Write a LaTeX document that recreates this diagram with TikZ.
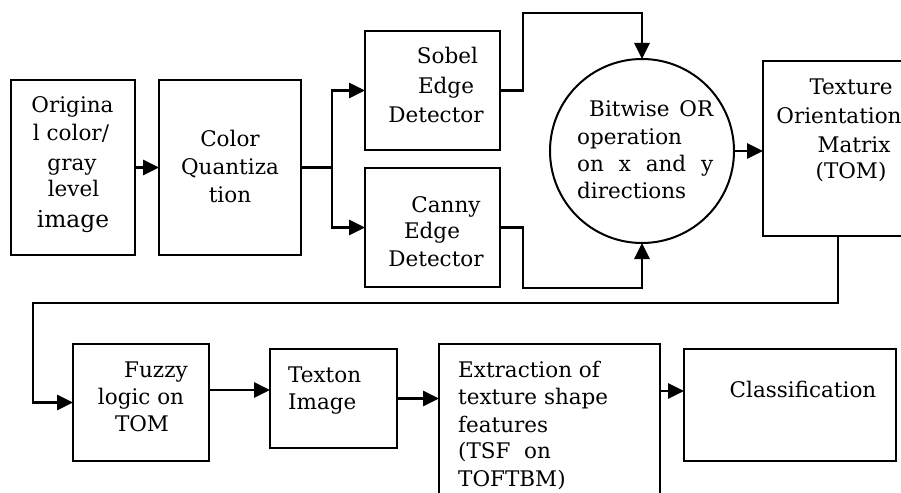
\documentclass[tikz,border=0pt]{standalone}
\usepackage{fontspec}
\setmainfont{DejaVu Serif}
\usetikzlibrary{arrows.meta}
\begin{document}
\begin{tikzpicture}[x=1pt,y=-1pt,
  box/.style={draw, line width=2pt, inner sep=0pt, outer sep=0pt},
  wire/.style={line width=2.8pt},
  conn/.style={wire, -{Triangle[length=16pt,width=15pt]}},
  tx/.style={inner sep=0pt, anchor=base, font=\fontsize{21.5}{28}\selectfont},
  txl/.style={tx, anchor=base west}]
\useasboundingbox (0,0) rectangle (901,492);
\clip (0,0) rectangle (901,492);
% boxes
\node[box, minimum width=124pt, minimum height=175pt] (orig) at (73,167.5) {};
\node[box, minimum width=142pt, minimum height=175pt] (quant) at (230,167.5) {};
\node[box, minimum width=135pt, minimum height=119pt] (sobel) at (432.5,90.5) {};
\node[box, minimum width=135pt, minimum height=119pt] (canny) at (432.5,227.5) {};
\node[box, circle, minimum size=184pt] (orc) at (642,151) {};
\node[box, minimum width=150pt, minimum height=175pt] (tom) at (838,148.5) {};
\node[box, minimum width=136pt, minimum height=117pt] (fuzzy) at (141,402.5) {};
\node[box, minimum width=127pt, minimum height=99pt] (texton) at (333.5,398.5) {};
\node[box, minimum width=221pt, minimum height=176pt] (extr) at (549.5,432) {};
\node[box, minimum width=212pt, minimum height=112pt] (classif) at (790,405) {};
% texts
\node[tx] (o1) at (72.5,113) {Origina};
\node[tx] (o2) at (71,140) {l color/};
\node[tx] (o3) at (72,170) {gray};
\node[tx] (o4) at (73.5,196) {level};
\node[tx, font=\fontsize{23.3}{28}\selectfont] (o5) at (73,227) {image};
\node[tx] (q1) at (230,146) {Color};
\node[tx] (q2) at (230,174) {Quantiza};
\node[tx] (q3) at (230,202) {tion};
\node[tx] (s1) at (447.5,64) {Sobel};
\node[tx] (s2) at (446,94) {Edge};
\node[tx] (s3) at (436,122) {Detector};
\node[tx] (c1) at (446,212) {Canny};
\node[tx] (c2) at (432,238) {Edge};
\node[tx] (c3) at (436,266) {Detector};
\node[txl] (b1) at (589,117) {\makebox[124pt][s]{Bitwise OR}};
\node[txl] (b2) at (577,144) {operation};
\node[txl] (b3) at (577,171) {\makebox[136pt][s]{on x and y}};
\node[txl] (b4) at (577,198) {directions};
\node[tx] (m1) at (851,95) {Texture};
\node[tx] (m2) at (839,123) {Orientation};
\node[tx] (m3) at (854,152) {Matrix};
\node[tx] (m4) at (851,178) {(TOM)};
\node[tx] (f1) at (156,377) {Fuzzy};
\node[tx] (f2) at (141,404) {logic on};
\node[tx] (f3) at (142,431) {TOM};
\node[txl] (x1) at (288,382) {Texton};
\node[txl] (x2) at (288,409) {Image};
\node[txl] (e1) at (458,377) {Extraction of};
\node[txl] (e2) at (458,404) {texture shape};
\node[txl] (e3) at (458,432) {features};
\node[txl] (e4) at (458,458) {(TSF\ \ on};
\node[txl] (e5) at (458,486) {TOFTBM)};
\node[tx] (k1) at (803,397) {Classification};
% connector helper points
\coordinate (split) at (332,167.5);
\coordinate (sup) at (523,13);
\coordinate (cdn) at (523,288);
\coordinate (back) at (33,303);
\coordinate (fz) at ([yshift=12.5pt]fuzzy.east);
\coordinate (cl) at ([yshift=14pt]classif.west);
% connectors
\draw[conn] (orig.east) -- (quant.west);
\draw[wire] (quant.east) -- (split);
\draw[conn] (split) |- (sobel.west);
\draw[conn] (split) |- (canny.west);
\draw[conn] (sobel.east) -| (sup) -| (orc.north);
\draw[conn] (canny.east) -| (cdn) -| (orc.south);
\draw[conn] (orc.east) -- (orc.east -| tom.west);
\draw[conn] (tom.south) |- (back) |- (fuzzy.west);
\draw[conn] (fz) -- (fz -| texton.west);
\draw[conn] (texton.east) -- (texton.east -| extr.west);
\draw[conn] (cl -| extr.east) -- (cl);
\end{tikzpicture}
\end{document}
